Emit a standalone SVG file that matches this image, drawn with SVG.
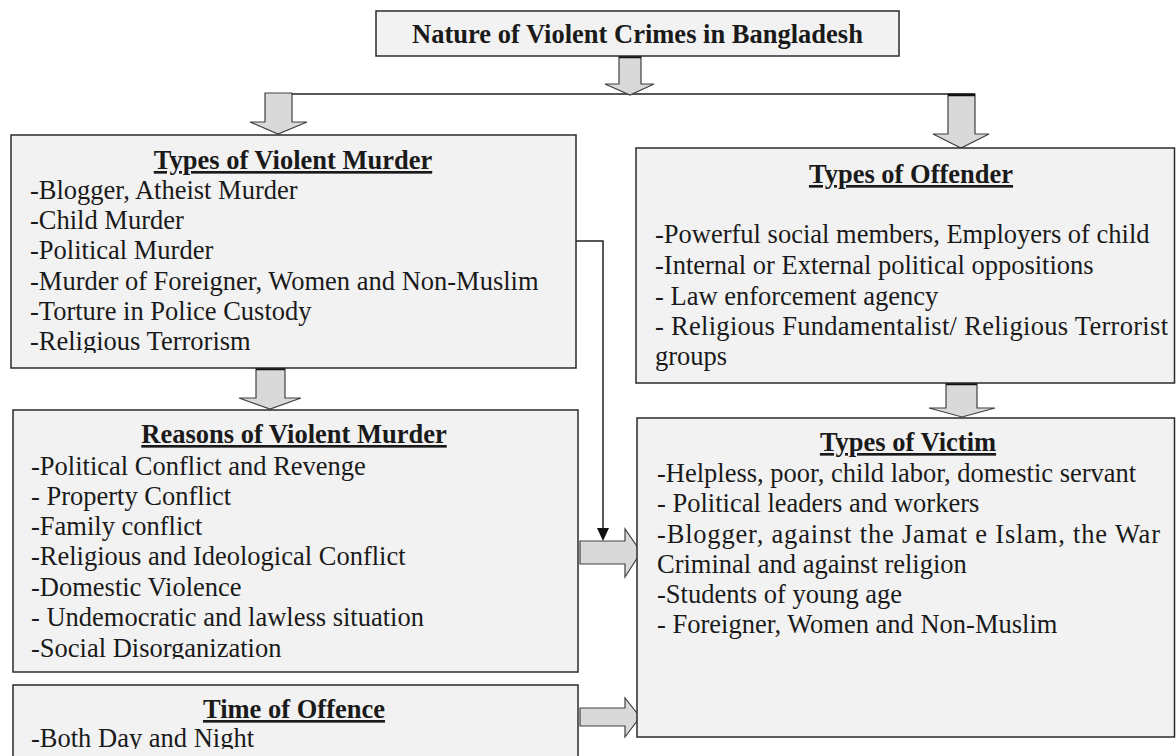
<svg xmlns="http://www.w3.org/2000/svg" width="1176" height="756" viewBox="0 0 1176 756">
<style>
.box{fill:#f2f2f2;stroke:#2b2b2b;stroke-width:1.5}
.arr{fill:#d9d9d9;stroke:#404040;stroke-width:1.2;stroke-linejoin:miter}
.edge{stroke:#111;stroke-width:2.5}
.ln{fill:none;stroke:#222;stroke-width:1.5}
.t{font-family:"Liberation Serif","Times New Roman",serif;font-size:26.5px;fill:#1a1a1a}
.h{font-family:"Liberation Serif","Times New Roman",serif;font-size:26.5px;font-weight:bold;fill:#1a1a1a}
.u{text-decoration:underline}
</style>
<defs>
  <clipPath id="clipTypes"><rect x="0" y="130" width="600" height="223"/></clipPath>
  <clipPath id="clipReasons"><rect x="0" y="405" width="600" height="254"/></clipPath>
  <clipPath id="clipTime"><rect x="0" y="680" width="600" height="69"/></clipPath>
</defs>
<rect width="1176" height="756" fill="#fff"/>

<g id="connectors">
  <line class="ln" x1="292" y1="94" x2="975" y2="94"/>
  <polygon class="arr" points="619,56 641,56 641,84 654,84 630,95 605,84 619,84"/>
  <line class="edge" x1="619" y1="57" x2="641" y2="57"/>
  <polygon class="arr" points="265,93 292,93 292,122 307,122 278,134 250,122 265,122"/>
  <polygon class="arr" points="948,94 975,94 975,134 989,134 961,148 933,134 948,134"/>
  <line class="edge" x1="948" y1="95" x2="975" y2="95"/>
  <polygon class="arr" points="256,368 285,368 285,398 301,398 270,409 239,398 256,398"/>
  <line class="edge" x1="256" y1="369" x2="285" y2="369"/>
  <polygon class="arr" points="946,383 977,383 977,408 995,408 962,417 929,408 946,408"/>
  <line class="edge" x1="946" y1="384" x2="977" y2="384"/>
  <polygon class="arr" points="580,541 625,541 625,529 641,552 625,577 625,564 580,564"/>
  <polygon class="arr" points="580,708 625,708 625,698 640,717 625,737 625,726 580,726"/>
  <polyline class="ln" points="576,241 603,241 603,529"/>
  <polygon points="597,528 609,528 603,541" fill="#111"/>
</g>

<g id="title">
  <rect class="box" x="376" y="11" width="523" height="45"/>
  <text class="h" x="637.5" y="43" text-anchor="middle">Nature of Violent Crimes in Bangladesh</text>
</g>

<g id="types-murder">
  <rect class="box" x="11" y="135" width="565" height="233"/>
  <g clip-path="url(#clipTypes)">
  <text class="h u" x="293" y="169" text-anchor="middle">Types of Violent Murder</text>
  <text class="t" x="30" y="199">-Blogger, Atheist Murder</text>
  <text class="t" x="30" y="229">-Child Murder</text>
  <text class="t" x="30" y="259">-Political Murder</text>
  <text class="t" x="30" y="290">-Murder of Foreigner, Women and Non-Muslim</text>
  <text class="t" x="30" y="320">-Torture in Police Custody</text>
  <text class="t" x="30" y="350">-Religious Terrorism</text>
  </g>
</g>

<g id="reasons">
  <rect class="box" x="13" y="410" width="565" height="262"/>
  <g clip-path="url(#clipReasons)">
  <text class="h u" x="294" y="443" text-anchor="middle">Reasons of Violent Murder</text>
  <text class="t" x="31" y="475">-Political Conflict and Revenge</text>
  <text class="t" x="31" y="505">- Property Conflict</text>
  <text class="t" x="31" y="535">-Family conflict</text>
  <text class="t" x="31" y="565">-Religious and Ideological Conflict</text>
  <text class="t" x="31" y="596">-Domestic Violence</text>
  <text class="t" x="31" y="626">- Undemocratic and lawless situation</text>
  <text class="t" x="31" y="657">-Social Disorganization</text>
  </g>
</g>

<g id="time">
  <rect class="box" x="13" y="685" width="565" height="90"/>
  <g clip-path="url(#clipTime)">
  <text class="h u" x="294" y="718" text-anchor="middle">Time of Offence</text>
  <text class="t" x="31" y="747">-Both Day and Night</text>
  </g>
</g>

<g id="offender">
  <rect class="box" x="636" y="148" width="538.5" height="235"/>
  <text class="h u" x="911" y="183" text-anchor="middle">Types of Offender</text>
  <text class="t" x="655" y="243">-Powerful social members, Employers of child</text>
  <text class="t" x="655" y="274">-Internal or External political oppositions</text>
  <text class="t" x="655" y="305">- Law enforcement agency</text>
  <text class="t" x="655" y="335" textLength="513" lengthAdjust="spacing">- Religious Fundamentalist/ Religious Terrorist</text>
  <text class="t" x="655" y="365">groups</text>
</g>

<g id="victim">
  <rect class="box" x="637" y="418" width="537.5" height="319"/>
  <text class="h u" x="908" y="451" text-anchor="middle">Types of Victim</text>
  <text class="t" x="657" y="482">-Helpless, poor, child labor, domestic servant</text>
  <text class="t" x="657" y="512">- Political leaders and workers</text>
  <text class="t" x="657" y="543" textLength="503" lengthAdjust="spacing">-Blogger, against the Jamat e Islam, the War</text>
  <text class="t" x="657" y="573">Criminal and against religion</text>
  <text class="t" x="657" y="603">-Students of young age</text>
  <text class="t" x="657" y="633">- Foreigner, Women and Non-Muslim</text>
</g>
</svg>
